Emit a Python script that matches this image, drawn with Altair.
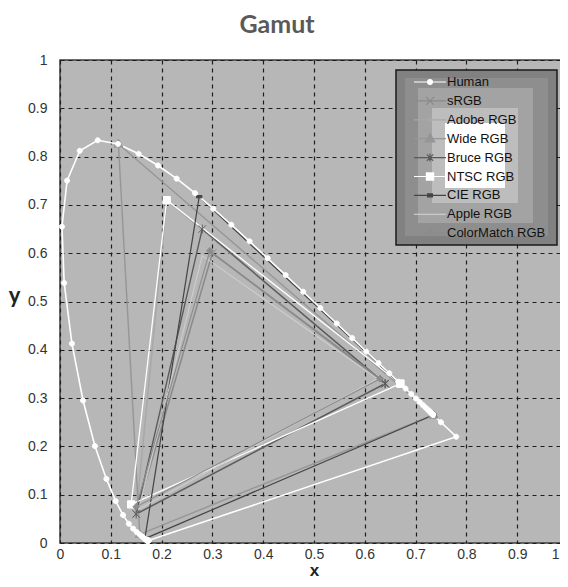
import altair as alt
import pandas as pd

# ---------------- data ----------------
series_names = ["Human", "sRGB", "Adobe RGB", "Wide RGB", "Bruce RGB",
                "NTSC RGB", "CIE RGB", "Apple RGB", "ColorMatch RGB"]
series_colors = ["#ffffff", "#8a8a8a", "#a8a8a8", "#969696", "#5a5a5a",
                 "#ffffff", "#454545", "#cdcdcd", "#8c8c8c"]
series_widths = [1.6, 1.1, 1.1, 1.2, 1.2, 1.3, 1.3, 1.1, 1.1]

# spectral locus (Human)
human_x = [0.1741, 0.1740, 0.1738, 0.1736, 0.1733, 0.1730, 0.1726, 0.1721,
           0.1714, 0.1703, 0.1689, 0.1669, 0.1644, 0.1611, 0.1566, 0.1510,
           0.1440, 0.1355, 0.1241, 0.1096, 0.0913, 0.0687, 0.0454, 0.0235,
           0.0082, 0.0039, 0.0139, 0.0389, 0.0743, 0.1142, 0.1547, 0.1929,
           0.2296, 0.2658, 0.3016, 0.3373, 0.3731, 0.4087, 0.4441, 0.4788,
           0.5125, 0.5448, 0.5752, 0.6029, 0.6270, 0.6482, 0.6658, 0.6801,
           0.6915, 0.7006, 0.7079, 0.7140, 0.7190, 0.7230, 0.7260, 0.7283,
           0.7300, 0.7311, 0.7320, 0.7327, 0.7334, 0.7340, 0.7344, 0.7346,
           0.7347, 0.75, 0.78]
human_y = [0.0050, 0.0050, 0.0049, 0.0049, 0.0048, 0.0048, 0.0048, 0.0048,
           0.0051, 0.0058, 0.0069, 0.0086, 0.0109, 0.0138, 0.0177, 0.0227,
           0.0297, 0.0399, 0.0578, 0.0868, 0.1327, 0.2007, 0.2950, 0.4127,
           0.5384, 0.6548, 0.7502, 0.8120, 0.8338, 0.8262, 0.8059, 0.7816,
           0.7543, 0.7243, 0.6923, 0.6589, 0.6245, 0.5896, 0.5547, 0.5202,
           0.4866, 0.4544, 0.4242, 0.3965, 0.3725, 0.3514, 0.3340, 0.3197,
           0.3083, 0.2993, 0.2920, 0.2859, 0.2809, 0.2770, 0.2740, 0.2717,
           0.2700, 0.2689, 0.2680, 0.2673, 0.2666, 0.2660, 0.2656, 0.2654,
           0.2653, 0.25, 0.22]

# gamut primaries (R, G, B)
srgb_x = [0.64, 0.30, 0.15]
srgb_y = [0.33, 0.60, 0.06]
adobe_x = [0.64, 0.21, 0.15]
adobe_y = [0.33, 0.71, 0.06]
wide_x = [0.735, 0.115, 0.157]
wide_y = [0.265, 0.826, 0.018]
bruce_x = [0.64, 0.28, 0.15]
bruce_y = [0.33, 0.65, 0.06]
ntsc_x = [0.67, 0.21, 0.14]
ntsc_y = [0.33, 0.71, 0.08]
cie_x = [0.735, 0.274, 0.167]
cie_y = [0.265, 0.717, 0.009]
apple_x = [0.625, 0.28, 0.155]
apple_y = [0.34, 0.595, 0.07]
cm_x = [0.63, 0.295, 0.15]
cm_y = [0.34, 0.605, 0.075]

tick_values = [0, 0.1, 0.2, 0.3, 0.4, 0.5, 0.6, 0.7, 0.8, 0.9, 1]

# ---------------- table ----------------
series_xy = [
    ("sRGB", srgb_x, srgb_y), ("Adobe RGB", adobe_x, adobe_y),
    ("Wide RGB", wide_x, wide_y), ("Bruce RGB", bruce_x, bruce_y),
    ("NTSC RGB", ntsc_x, ntsc_y), ("CIE RGB", cie_x, cie_y),
    ("Apple RGB", apple_x, apple_y), ("ColorMatch RGB", cm_x, cm_y),
    ("Human", human_x, human_y),
]
rows = []
for name, xs, ys in series_xy:
    xs_c = list(xs) + [xs[0]]
    ys_c = list(ys) + [ys[0]]
    for i, (xv, yv) in enumerate(zip(xs_c, ys_c)):
        rows.append({"series": name, "lg": name, "x": xv, "y": yv, "ord": i})
df = pd.DataFrame(rows)

# ---------------- styles ----------------
LINE = "M-2,0H2"
legend_paths = [
    LINE + "M-0.3,0A0.3,0.3 0 1,1 0.3,0A0.3,0.3 0 1,1 -0.3,0Z",
    LINE + "M-0.5,-0.5L0.5,0.5M-0.5,0.5L0.5,-0.5",
    LINE + "M-0.22,0A0.22,0.22 0 1,1 0.22,0A0.22,0.22 0 1,1 -0.22,0Z",
    LINE + "M0,-0.65L0.6,0.4L-0.6,0.4Z",
    LINE + "M-0.4,-0.4L0.4,0.4M-0.4,0.4L0.4,-0.4M0,-0.5V0.5",
    LINE + "M-0.45,-0.45H0.45V0.45H-0.45Z",
    LINE + "M-0.3,-0.18H0.3V0.18H-0.3Z",
    LINE,
    LINE + "M0,-0.4L0.4,0L0,0.4L-0.4,0Z",
]
point_paths = [
    "M-0.85,0A0.85,0.85 0 1,1 0.85,0A0.85,0.85 0 1,1 -0.85,0Z",
    "M-1.3,-1.3L1.3,1.3M-1.3,1.3L1.3,-1.3",
    "M-0.6,0A0.6,0.6 0 1,1 0.6,0A0.6,0.6 0 1,1 -0.6,0Z",
    "M0,-1.6L1.5,1L-1.5,1Z",
    "M-1.2,-1.2L1.2,1.2M-1.2,1.2L1.2,-1.2M0,-1.5V1.5",
    "M-1.2,-1.2H1.2V1.2H-1.2Z",
    "M-0.9,-0.4H0.9V0.4H-0.9Z",
    "M0,0L0.01,0",
    "M0,-1.1L1.1,0L0,1.1L-1.1,0Z",
]

color_scale = alt.Scale(domain=series_names, range=series_colors)

x_axis = alt.Axis(values=tick_values, format="~g", title="x",
                  grid=True, gridDash=[4, 4], gridColor="#1e1e1e", gridWidth=1.2,
                  ticks=False, tickSize=0, domain=False,
                  labelFont="Liberation Sans", labelFontSize=14, labelColor="#333333",
                  labelPadding=4,
                  labelAlign={"condition": {"test": "datum.value === 1", "value": "right"},
                              "value": "center"},
                  labelOffset={"condition": {"test": "datum.value === 1", "value": -9},
                               "value": 0},
                  titleFont="Liberation Sans", titleFontWeight="bold", titleFontSize=17,
                  titleColor="#222222", titleX=254, titleY=32,
                  titleAlign="center", titleBaseline="alphabetic")
y_axis = alt.Axis(values=tick_values, format="~g", title="y",
                  grid=True, gridDash=[4, 4], gridColor="#1e1e1e", gridWidth=1.2,
                  ticks=False, tickSize=0, domain=False,
                  labelFont="Liberation Sans", labelFontSize=14, labelColor="#333333",
                  labelPadding=13,
                  titleFont="Lato", titleFontWeight="bold", titleFontSize=22,
                  titleColor="#222222", titleAngle=0, titleX=-46, titleY=242,
                  titleAlign="center", titleBaseline="alphabetic")

x_enc = alt.X("x:Q", scale=alt.Scale(domain=[0, 1], nice=False, zero=False), axis=x_axis)
y_enc = alt.Y("y:Q", scale=alt.Scale(domain=[0, 1], nice=False, zero=False), axis=y_axis)

base = alt.Chart(df)

lines = base.mark_line(strokeJoin="miter").encode(
    x=x_enc, y=y_enc,
    stroke=alt.Stroke("series:N", scale=color_scale, legend=None),
    strokeWidth=alt.StrokeWidth("series:N",
                                scale=alt.Scale(domain=series_names, range=series_widths),
                                legend=None),
    order=alt.Order("ord:Q"),
)

points = base.mark_point(filled=True, opacity=1, size=36, strokeWidth=1).encode(
    x=x_enc, y=y_enc,
    shape=alt.Shape("series:N", scale=alt.Scale(domain=series_names, range=point_paths),
                    legend=None),
    fill=alt.Fill("series:N", scale=color_scale, legend=None),
    stroke=alt.Stroke("series:N", scale=color_scale, legend=None),
)

# legend box shading (decoration, pixel positions of the legend frame)
ring_specs = [
    (336, 497, 10, 185, "#818181"),
    (345, 488, 18, 176, "#8e8e8e"),
    (358, 473, 28, 163, "#a3a3a3"),
    (372, 458, 48, 143, "#bdbdbd"),
    (385, 445, 63, 128, "#ffffff"),
]
rings = []
for k, (x1, x2, y1, y2, col) in enumerate(ring_specs):
    mk = alt.Chart(alt.Data(values=[{"k": k}])).mark_rect(
        fill=col, stroke="#1a1a1a" if k == 0 else col,
        strokeWidth=1.5 if k == 0 else 0)
    rings.append(mk.encode(x=alt.value(x1), x2=alt.value(x2),
                           y=alt.value(y1), y2=alt.value(y2)))

leg = alt.Legend(title=None, orient="none", legendX=361, legendY=13,
                 padding=0, rowPadding=2.9, symbolSize=256, symbolStrokeWidth=1.2,
                 symbolOpacity=1, labelFont="Liberation Sans", labelFontSize=13,
                 labelColor="#111111", labelOffset=8)

legend_layer = base.transform_filter("false").mark_point(
    filled=True, opacity=1, strokeWidth=1.2).encode(
    x=x_enc, y=y_enc,
    shape=alt.Shape("lg:N", scale=alt.Scale(domain=series_names, range=legend_paths),
                    legend=leg),
    fill=alt.Fill("lg:N", scale=alt.Scale(domain=series_names, range=series_colors),
                  legend=leg),
    stroke=alt.Stroke("lg:N", scale=alt.Scale(domain=series_names, range=series_colors),
                      legend=leg),
)

chart = alt.layer(lines, points, *rings, legend_layer).resolve_scale(
    shape="independent", fill="independent", stroke="independent",
    strokeWidth="independent"
).properties(
    width=508, height=483,
    autosize=alt.AutoSizeParams(type="none"),
    padding={"left": 52, "top": 52, "right": -8, "bottom": 36},
    title=alt.TitleParams("Gamut", font="Lato", fontWeight="bold", fontSize=25,
                          color="#5a5a5a", anchor="middle", frame="group",
                          dx=-37, dy=6, offset=1, baseline="alphabetic"),
).configure_view(
    fill="#b7b7b7", stroke="#3d3d3d", strokeWidth=1.5
)

chart.save("out.html", embed_options={"renderer": "svg", "actions": False})
